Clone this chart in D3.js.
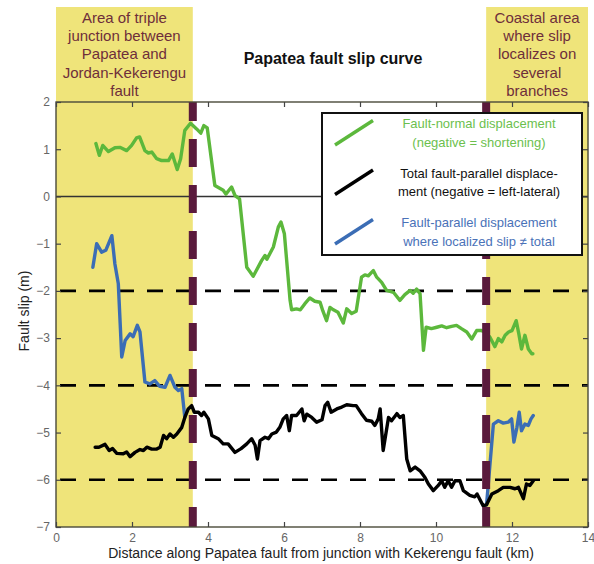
<!DOCTYPE html>
<html>
<head>
<meta charset="utf-8">
<script src="https://cdn.jsdelivr.net/npm/d3@7"></script>
<style>
  html, body { margin: 0; padding: 0; background: #fff; }
  svg { display: block; font-family: "Liberation Sans", Arial, sans-serif; }
</style>
</head>
<body>
<svg id="chart" width="594" height="564"></svg>
<script>
// Fault-normal displacement (green), [km, m]
const faultNormal = [
  [1.05,1.12],[1.14,0.87],[1.23,1.08],[1.38,0.95],[1.55,1.03],[1.68,1.04],[1.86,0.97],
  [1.99,1.08],[2.12,1.24],[2.2,1.26],[2.34,0.97],[2.43,0.92],[2.52,0.94],[2.65,0.80],
  [2.78,0.76],[2.96,0.76],[3.06,0.90],[3.19,0.57],[3.28,0.80],[3.39,1.40],[3.54,1.55],
  [3.70,1.43],[3.81,1.34],[3.89,1.50],[3.98,1.45],[4.18,0.23],[4.40,0.13],[4.47,0.05],
  [4.62,0.20],[4.71,0.02],[4.83,-0.05],[5.02,-1.50],[5.19,-1.69],[5.41,-1.36],[5.50,-1.25],
  [5.55,-1.33],[5.72,-1.07],[5.85,-0.65],[5.92,-0.54],[6.01,-0.79],[6.16,-2.20],[6.20,-2.40],
  [6.33,-2.38],[6.43,-2.40],[6.55,-2.27],[6.68,-2.15],[6.81,-2.22],[6.95,-2.24],[7.02,-2.42],
  [7.12,-2.63],[7.21,-2.35],[7.30,-2.40],[7.42,-2.45],[7.56,-2.68],[7.65,-2.38],[7.78,-2.48],
  [7.90,-2.43],[8.04,-1.71],[8.13,-1.66],[8.22,-1.68],[8.35,-1.57],[8.44,-1.71],[8.57,-1.82],
  [8.70,-1.99],[8.88,-2.03],[9.05,-2.20],[9.18,-2.08],[9.32,-1.99],[9.40,-2.05],[9.49,-1.96],
  [9.58,-2.06],[9.67,-3.26],[9.74,-2.77],[9.88,-2.80],[10.02,-2.77],[10.15,-2.74],
  [10.28,-2.78],[10.41,-2.75],[10.54,-2.73],[10.67,-2.80],[10.81,-2.87],[10.94,-3.02],
  [11.07,-2.84],[11.20,-2.84],[11.29,-2.87],[11.42,-2.98],[11.55,-3.18],[11.64,-3.01],
  [11.73,-3.08],[11.82,-2.94],[11.91,-2.87],[12.00,-2.84],[12.11,-2.63],[12.18,-2.91],
  [12.25,-3.23],[12.34,-2.94],[12.43,-3.23],[12.52,-3.33],[12.55,-3.33]
];

// Total fault-parallel displacement (black), [km, m]
const totalParallel = [
  [1.03,-5.31],[1.13,-5.31],[1.29,-5.25],[1.40,-5.38],[1.49,-5.34],[1.60,-5.44],[1.77,-5.45],
  [1.86,-5.41],[1.95,-5.51],[2.08,-5.42],[2.21,-5.36],[2.30,-5.38],[2.39,-5.31],[2.52,-5.35],
  [2.65,-5.35],[2.74,-5.31],[2.83,-5.06],[2.91,-5.13],[3.00,-5.03],[3.09,-5.10],[3.18,-5.03],
  [3.31,-4.89],[3.39,-4.68],[3.48,-4.50],[3.57,-4.43],[3.64,-4.57],[3.75,-4.57],[3.83,-4.64],
  [3.89,-4.57],[4.01,-4.71],[4.10,-5.06],[4.27,-5.13],[4.40,-5.24],[4.53,-5.24],[4.71,-5.42],
  [4.87,-5.34],[5.02,-5.24],[5.15,-5.13],[5.24,-5.27],[5.30,-5.56],[5.37,-5.17],[5.50,-5.10],
  [5.59,-5.13],[5.68,-5.03],[5.80,-4.99],[5.89,-4.89],[5.98,-4.71],[6.07,-4.64],[6.14,-4.96],
  [6.20,-4.64],[6.33,-4.64],[6.47,-4.50],[6.53,-4.75],[6.60,-4.61],[6.73,-4.68],[6.86,-4.78],
  [7.00,-4.73],[7.08,-4.43],[7.15,-4.36],[7.24,-4.57],[7.39,-4.50],[7.52,-4.46],[7.65,-4.41],
  [7.82,-4.43],[7.90,-4.43],[8.04,-4.60],[8.17,-4.74],[8.31,-4.76],[8.39,-4.85],[8.48,-4.71],
  [8.53,-4.50],[8.61,-5.38],[8.75,-4.68],[8.83,-4.75],[8.97,-4.60],[9.05,-4.68],[9.14,-4.64],
  [9.23,-5.56],[9.32,-5.81],[9.45,-5.73],[9.58,-5.81],[9.71,-5.95],[9.80,-6.09],[9.93,-6.23],
  [10.06,-6.12],[10.15,-6.02],[10.23,-6.16],[10.32,-6.02],[10.41,-6.16],[10.50,-6.02],
  [10.63,-6.02],[10.72,-6.23],[10.89,-6.33],[11.02,-6.36],[11.08,-6.30],[11.24,-6.55],
  [11.33,-6.53],[11.47,-6.30],[11.64,-6.23],[11.77,-6.16],[11.95,-6.16],[12.08,-6.19],
  [12.17,-6.16],[12.30,-6.40],[12.38,-6.09],[12.47,-6.12],[12.56,-6.02]
];

// Fault-parallel displacement where localized slip differs from total (blue)
const localizedWest = [
  [0.97,-1.50],[1.07,-1.00],[1.20,-1.18],[1.31,-1.14],[1.47,-0.83],[1.55,-1.43],[1.64,-1.85],
  [1.73,-3.40],[1.82,-3.05],[1.95,-2.91],[2.03,-2.97],[2.14,-2.73],[2.21,-2.87],[2.34,-3.93],
  [2.47,-3.97],[2.60,-3.90],[2.73,-4.02],[2.87,-4.04],[3.00,-3.79],[3.13,-4.04],[3.22,-4.11],
  [3.31,-4.07],[3.39,-4.68]
];
const localizedEast = [
  [11.33,-6.53],[11.51,-4.82],[11.64,-4.75],[11.77,-4.80],[11.90,-4.78],[11.99,-4.71],
  [12.05,-5.20],[12.13,-4.89],[12.19,-4.57],[12.25,-4.96],[12.34,-4.82],[12.43,-4.85],
  [12.50,-4.71],[12.56,-4.64]
];

// Zones, reference levels and tick labels
const zoneBounds = [[0, 3.6], [11.32, 14]];
const zoneTexts = [
  ["Area of triple", "junction between", "Papatea and", "Jordan-Kekerengu", "fault"],
  ["Coastal area", "where slip", "localizes on", "several", "branches"]
];
const dashedLevels = [-2, -4, -6];
const xTicks = [0, 2, 4, 6, 8, 10, 12, 14];
const yTicks = [2, 1, 0, -1, -2, -3, -4, -5, -6, -7];
const legendItems = [
  { lines: ["Fault-normal displacement", "(negative = shortening)"], color: "#5cb83c", text: "#6cbf4e" },
  { lines: ["Total fault-parallel displace-", "ment (negative = left-lateral)"], color: "#000000", text: "#111111" },
  { lines: ["Fault-parallel displacement", "where localized slip \u2260 total"], color: "#3b6db5", text: "#4a72b8" }
];

const svg = d3.select("#chart");
const M = { left: 56, right: 588, top: 102, bottom: 527 };
const x = d3.scaleLinear().domain([0, 14]).range([M.left, M.right]);
const y = d3.scaleLinear().domain([-7, 2]).range([M.bottom, M.top]);

const YELLOW = "#efe47a";
const PURPLE = "#5a1a3c";

// Shaded zones extending above the plot to hold their captions
zoneBounds.forEach((b, i) => {
  svg.append("rect")
    .attr("x", x(b[0])).attr("y", 7)
    .attr("width", x(b[1]) - x(b[0])).attr("height", M.bottom - 7)
    .attr("fill", YELLOW);
  const cx = (x(b[0]) + x(b[1])) / 2;
  zoneTexts[i].forEach((t, j) => {
    svg.append("text")
      .attr("x", cx).attr("y", 23 + j * 18.2)
      .attr("text-anchor", "middle")
      .attr("font-size", 15)
      .attr("fill", "#6e2e3a")
      .text(t);
  });
});

// Title
svg.append("text")
  .attr("x", 333).attr("y", 64)
  .attr("text-anchor", "middle")
  .attr("font-size", 16).attr("font-weight", "bold")
  .attr("fill", "#111")
  .text("Papatea fault slip curve");

// Zero line and dashed reference levels
svg.append("line")
  .attr("x1", M.left).attr("x2", M.right)
  .attr("y1", y(0)).attr("y2", y(0))
  .attr("stroke", "#333").attr("stroke-width", 1.6);
dashedLevels.forEach(v => {
  svg.append("line")
    .attr("x1", M.left).attr("x2", M.right)
    .attr("y1", y(v)).attr("y2", y(v))
    .attr("stroke", "#000").attr("stroke-width", 2.6)
    .attr("stroke-dasharray", "16,13")
    .attr("stroke-dashoffset", -4);
});

// Curves
const line = d3.line().x(d => x(d[0])).y(d => y(d[1]));
const curves = [
  [localizedWest, "#3b6db5"],
  [localizedEast, "#3b6db5"],
  [totalParallel, "#000000"],
  [faultNormal, "#5cb83c"]
];
curves.forEach(([data, color]) => {
  svg.append("path")
    .datum(data)
    .attr("d", line)
    .attr("fill", "none")
    .attr("stroke", color)
    .attr("stroke-width", 3.4)
    .attr("stroke-linejoin", "round")
    .attr("stroke-linecap", "round");
});

// Zone boundaries (thick dashed purple)
[zoneBounds[0][1], zoneBounds[1][0]].forEach(v => {
  svg.append("line")
    .attr("x1", x(v)).attr("x2", x(v))
    .attr("y1", M.top).attr("y2", M.bottom)
    .attr("stroke", PURPLE).attr("stroke-width", 8)
    .attr("stroke-dasharray", "28,18")
    .attr("stroke-dashoffset", 9);
});

// Plot frame
svg.append("rect")
  .attr("x", M.left).attr("y", M.top)
  .attr("width", M.right - M.left).attr("height", M.bottom - M.top)
  .attr("fill", "none").attr("stroke", "#4a4a3a").attr("stroke-width", 1.4);

// Axes with inward ticks on all four sides
const tickStyle = g => {
  g.select(".domain").remove();
  g.selectAll(".tick line").attr("stroke", "#444").attr("stroke-width", 1.2);
  g.selectAll(".tick text").attr("fill", "#666").attr("font-size", 12)
    .attr("font-family", "Liberation Sans, Arial, sans-serif");
};
svg.append("g").attr("transform", `translate(0,${M.bottom})`)
  .call(d3.axisBottom(x).tickValues(xTicks).tickSize(-5).tickPadding(6).tickFormat(d3.format("d")))
  .call(tickStyle);
svg.append("g").attr("transform", `translate(0,${M.top})`)
  .call(d3.axisTop(x).tickValues(xTicks).tickSize(-5).tickFormat(""))
  .call(tickStyle);
svg.append("g").attr("transform", `translate(${M.left},0)`)
  .call(d3.axisLeft(y).tickValues(yTicks).tickSize(-5).tickPadding(6).tickFormat(d3.format("d")))
  .call(tickStyle);
svg.append("g").attr("transform", `translate(${M.right},0)`)
  .call(d3.axisRight(y).tickValues(yTicks).tickSize(-5).tickFormat(""))
  .call(tickStyle);

// Axis titles
svg.append("text")
  .attr("x", 321).attr("y", 558)
  .attr("text-anchor", "middle").attr("font-size", 14).attr("fill", "#222")
  .text("Distance along Papatea fault from junction with Kekerengu fault (km)");
svg.append("text")
  .attr("transform", "translate(29,311) rotate(-90)")
  .attr("text-anchor", "middle").attr("font-size", 14).attr("fill", "#222")
  .text("Fault slip (m)");

// Legend
const lg = svg.append("g");
lg.append("rect")
  .attr("x", 322).attr("y", 113).attr("width", 260).attr("height", 142)
  .attr("fill", "#fff").attr("stroke", "#111").attr("stroke-width", 2);
legendItems.forEach((it, i) => {
  const y0 = 145 + i * 49.5;
  lg.append("line")
    .attr("x1", 335).attr("y1", y0).attr("x2", 373).attr("y2", y0 - 24.5)
    .attr("stroke", it.color).attr("stroke-width", 3.4);
  it.lines.forEach((t, j) => {
    lg.append("text")
      .attr("x", 479).attr("y", 128 + i * 49.5 + j * 18.5)
      .attr("text-anchor", "middle").attr("font-size", 13)
      .attr("fill", it.text)
      .text(t);
  });
});
</script>
</body>
</html>
